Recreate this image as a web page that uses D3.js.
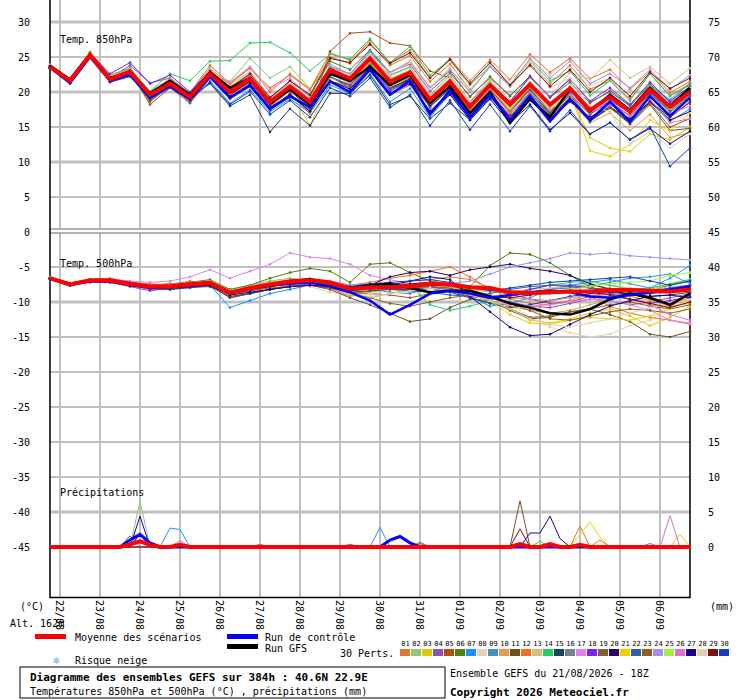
<!DOCTYPE html>
<html><head><meta charset="utf-8">
<script src="https://cdn.jsdelivr.net/npm/d3@7"></script>
<style>body{margin:0;background:#fff}text{font-family:"DejaVu Sans Mono",monospace;font-size:10px}</style>
</head><body><div id="wrapper"></div>
<script>
const dayLabels = ["22/08","23/08","24/08","25/08","26/08","27/08","28/08","29/08","30/08","31/08","01/09","02/09","03/09","04/09","05/09","06/09"]
const memberColors = ["#e07830","#90c878","#e8c800","#9050b0","#b05010","#508010","#1e90ff","#e8d0b0","#4090c0","#e0a050","#705020","#f07020","#d0c080","#20d060","#204060","#708090","#e080f0","#8020f0","#806030","#300060","#f0d000","#3060a0","#906020","#a090f0","#a0f040","#e070d0","#200090","#e0d0b0","#801010","#1040c0"]

// 850 hPa, every 12h from 21/08 18Z
const mean850 = [23.6,21.6,25.3,21.8,22.9,19.6,21.2,19.3,22.6,20.0,21.9,18.6,20.8,18.6,23.2,21.9,24.8,21.5,22.8,18.9,21.5,17.9,21.0,18.2,21.1,18.2,20.5,17.4,19.3,17.2,20.3,17.9,20.0]
const control850 = [23.5,21.3,25.0,21.6,22.5,19.2,20.9,19.0,22.2,19.2,20.9,17.6,19.4,17.8,21.5,20.0,23.2,19.6,21.6,16.8,20.2,16.4,19.6,16.0,19.4,15.8,19.0,16.0,18.6,15.8,19.4,16.6,19.2]
const gfs850 = [23.8,21.8,25.4,22.0,22.8,19.8,21.6,19.6,22.8,20.6,22.0,18.4,20.4,18.2,22.6,21.6,23.6,21.0,22.4,18.4,20.8,17.0,20.0,15.6,19.0,16.4,20.4,17.2,19.6,17.4,20.6,18.0,20.6]
const members850 = [
[23.8,21.5,25.6,22.4,23.4,19.9,21.8,19.9,23.8,21.2,23.5,20.0,22.6,20.4,25.6,24.5,27.0,23.8,25.2,21.5,24.0,20.3,23.6,20.8,24.0,21.2,23.8,20.4,21.6,19.0,22.6,19.5,21.2],
[23.7,21.8,25.2,22.0,23.1,19.5,21.0,19.0,22.8,21.5,24.8,22.0,23.6,20.5,24.0,22.5,25.3,22.0,23.0,19.0,21.8,18.2,21.4,18.0,20.6,17.8,20.2,17.0,18.6,16.5,19.7,17.1,19.2],
[23.5,21.4,25.1,21.5,22.6,19.2,20.9,19.0,22.4,19.5,21.4,17.8,20.2,15.2,21.5,21.0,24.0,20.8,22.1,18.2,20.9,17.4,20.4,17.6,20.4,17.2,19.6,13.5,12.0,11.5,14.0,13.2,15.0],
[23.6,21.7,25.4,22.0,23.8,21.3,22.0,19.8,23.0,20.4,22.3,18.5,20.4,17.8,22.6,22.0,25.5,22.8,24.0,20.1,22.7,19.4,22.0,19.5,22.1,19.3,21.9,18.6,20.0,18.0,21.1,18.4,20.5],
[23.4,21.6,25.7,22.2,23.0,18.2,20.6,18.4,22.0,19.1,21.0,17.5,19.8,16.9,25.8,28.4,28.6,27.0,26.6,23.0,22.0,16.5,19.6,16.8,19.8,16.8,19.0,15.9,17.7,15.8,18.7,16.4,18.5],
[23.7,21.5,25.3,21.9,22.7,19.8,21.4,19.6,23.0,20.5,22.4,19.0,21.6,19.4,24.4,23.2,26.0,22.8,24.3,20.6,23.0,19.3,22.2,19.4,22.3,19.2,21.4,18.4,20.2,18.1,21.1,18.7,20.8],
[23.5,21.3,25.0,21.6,22.5,19.4,20.8,19.0,21.6,18.4,20.3,17.2,19.0,17.0,21.0,19.8,22.6,18.6,20.5,16.4,19.8,16.0,19.6,16.4,20.0,16.8,19.5,16.2,18.0,15.5,18.6,15.8,17.6],
[23.9,21.7,25.5,22.3,23.2,19.9,21.6,19.6,23.2,20.8,22.6,19.2,21.0,18.8,23.4,22.4,25.4,22.6,24.6,20.8,23.4,20.1,23.8,21.0,24.6,22.4,25.0,21.0,22.0,18.5,19.8,16.0,17.2],
[23.6,21.5,25.2,21.8,22.8,19.6,21.3,19.4,22.5,20.2,22.0,18.8,21.2,18.8,23.6,22.6,25.9,22.4,23.6,19.5,22.4,18.6,21.5,18.5,21.3,18.4,20.8,17.6,19.7,17.6,20.9,18.9,21.2],
[23.8,21.9,25.6,22.5,23.3,20.1,21.9,19.8,23.4,21.0,22.9,19.3,21.4,18.8,23.0,21.4,24.2,21.0,22.0,18.2,20.6,17.2,20.0,17.0,19.4,16.5,18.8,15.6,17.0,14.5,16.8,13.5,14.2],
[23.5,21.4,25.2,21.7,22.6,18.8,20.9,18.9,22.2,19.1,21.0,17.4,19.7,17.6,22.1,20.9,23.8,20.4,22.0,18.0,20.9,17.1,20.4,17.1,20.5,16.8,19.6,16.0,17.8,15.4,18.2,14.5,14.8],
[23.7,21.6,25.4,22.0,23.1,19.8,21.4,19.5,22.8,21.2,23.4,20.6,22.4,20.3,25.0,24.1,27.4,24.2,26.0,22.0,24.8,21.6,24.6,21.8,25.4,22.8,24.8,21.9,23.2,20.4,22.9,19.9,21.5],
[23.6,21.5,25.3,21.9,22.9,19.7,21.3,19.4,22.7,20.4,22.2,18.9,21.1,18.6,23.3,22.2,25.1,22.3,23.5,19.6,22.4,18.7,21.8,18.8,22.0,19.3,22.8,21.8,24.6,22.0,23.6,21.2,23.4],
[23.8,21.8,25.5,22.2,23.4,20.1,22.6,21.6,24.4,24.5,27.0,27.1,25.6,23.0,25.4,24.7,27.6,24.2,26.5,22.4,24.6,21.0,23.6,21.0,24.5,21.6,23.0,19.5,21.6,18.8,22.6,19.4,21.0],
[23.4,21.3,25.0,21.5,22.4,19.3,20.8,19.2,21.2,18.0,19.6,14.3,17.6,15.2,19.8,19.8,22.4,18.2,19.4,16.2,18.4,16.0,19.2,16.5,19.6,16.2,19.2,15.8,17.8,15.6,18.6,16.4,18.6],
[23.6,21.5,25.2,21.9,22.8,19.5,21.2,19.4,22.4,19.8,21.6,18.2,20.4,18.0,22.6,21.3,24.2,20.9,22.2,18.6,21.2,17.6,20.8,18.1,21.0,18.0,20.3,17.2,19.4,17.0,20.0,17.6,19.6],
[23.7,21.7,25.4,22.1,23.2,19.9,21.5,19.5,23.1,21.4,23.6,20.4,22.0,19.2,23.0,21.2,23.6,20.2,21.6,18.0,20.8,17.4,20.0,16.5,19.2,16.2,19.0,16.4,18.2,16.6,19.4,16.8,18.0],
[23.6,21.6,25.5,22.6,24.2,21.2,22.4,20.0,23.2,20.3,22.0,18.8,21.0,18.0,22.2,20.6,23.6,20.1,21.8,18.4,21.6,17.8,21.2,18.6,22.2,19.3,21.8,18.7,20.6,18.2,21.4,18.6,20.8],
[23.5,21.5,25.3,22.0,22.9,19.5,21.1,18.5,22.2,19.6,21.5,18.2,20.2,18.0,22.6,21.6,24.4,20.9,22.4,18.4,20.9,17.2,20.3,17.4,20.5,17.2,19.6,16.8,18.6,16.6,19.8,17.2,19.4],
[23.4,21.4,25.1,21.6,22.6,19.3,21.0,19.1,22.3,19.6,21.5,18.1,20.4,18.2,22.8,21.4,24.0,20.6,21.8,18.0,20.4,17.0,19.8,16.5,18.8,16.2,18.6,16.4,17.8,16.2,18.6,16.0,17.2],
[23.7,21.6,25.4,22.0,23.0,19.7,21.2,19.3,22.6,20.0,22.0,18.6,20.6,17.0,22.0,21.2,24.2,20.8,22.2,18.4,21.0,17.2,20.6,17.4,20.7,17.5,20.0,11.6,10.8,12.5,16.0,14.4,17.0],
[23.6,21.5,25.3,21.8,22.8,19.6,21.2,19.2,22.4,19.7,21.6,18.0,20.2,17.6,22.2,21.0,23.9,20.4,21.6,17.8,20.6,17.0,20.2,17.2,20.3,17.0,19.8,16.8,18.8,17.0,19.8,17.4,19.6],
[23.5,21.4,25.2,21.7,22.6,18.6,20.8,18.8,22.0,19.0,20.9,17.6,19.4,17.4,21.6,20.6,23.4,19.6,21.0,17.4,19.8,16.6,19.6,16.4,19.8,16.6,19.2,16.2,17.8,15.8,18.4,15.0,16.2],
[23.7,21.7,25.4,22.1,23.2,19.9,21.6,19.6,23.0,20.6,22.4,19.2,21.3,19.0,23.7,22.6,25.6,22.8,24.2,20.6,23.2,20.0,23.6,21.0,24.8,22.0,24.4,21.2,22.6,20.6,23.2,20.4,22.4],
[23.6,21.6,25.4,22.0,23.0,19.8,21.4,18.9,22.6,19.8,21.9,18.4,20.6,18.0,23.0,22.0,25.0,21.8,23.2,19.2,22.0,18.2,21.4,18.0,21.4,18.0,20.8,17.4,19.6,17.3,20.8,17.6,20.6],
[23.6,21.5,25.3,21.9,22.8,19.6,21.3,19.4,22.8,20.2,22.4,18.8,20.9,18.2,22.8,21.4,24.4,21.0,22.4,18.6,21.2,17.8,20.2,17.1,20.0,17.4,19.6,17.0,18.6,16.5,19.0,15.6,16.2],
[23.5,21.4,25.1,21.6,22.5,19.4,20.9,19.1,22.2,19.3,21.2,17.8,19.6,17.2,21.6,20.4,23.4,19.8,21.2,17.2,19.6,16.0,19.0,15.6,18.2,14.6,17.0,14.0,15.6,13.2,14.8,12.6,14.4],
[23.8,21.7,25.5,22.2,23.2,20.0,21.7,19.7,23.2,20.7,22.8,19.0,21.2,18.6,23.4,22.4,25.4,22.6,24.2,20.4,23.6,21.2,24.0,21.6,24.4,20.6,22.0,18.0,17.2,12.5,14.4,12.0,14.0],
[23.7,21.6,25.4,22.1,23.1,19.9,21.6,19.6,23.0,20.6,22.6,19.2,21.6,19.6,24.8,24.2,26.8,24.1,25.6,22.0,24.6,21.2,24.2,21.0,23.8,20.8,23.2,20.0,22.0,19.4,22.8,20.5,22.0],
[23.4,21.2,25.0,21.4,22.2,19.0,20.6,18.8,21.4,18.2,20.1,16.8,18.8,16.4,20.6,19.4,22.0,17.8,19.6,15.2,18.8,14.6,18.2,14.4,18.0,14.4,17.4,14.0,15.6,13.2,15.0,9.4,12.0]
]

// 500 hPa, every 12h
const mean500 = [-6.6,-7.5,-6.9,-6.9,-7.4,-7.8,-7.8,-7.5,-7.3,-8.7,-8.0,-7.5,-7.1,-6.9,-7.2,-8.1,-7.9,-7.9,-7.8,-7.4,-7.5,-7.9,-8.0,-8.6,-8.7,-8.6,-8.5,-8.5,-8.3,-8.3,-8.4,-8.5,-8.2]
const control500 = [-6.7,-7.6,-7.0,-7.0,-7.5,-7.9,-7.8,-7.5,-7.3,-8.6,-8.0,-7.6,-7.4,-7.2,-7.8,-8.6,-9.8,-11.8,-10.4,-8.8,-8.4,-8.8,-9.4,-9.0,-8.6,-8.4,-8.6,-9.2,-9.4,-9.0,-8.6,-8.2,-7.8]
const gfs500 = [-6.6,-7.4,-6.9,-6.9,-7.4,-7.8,-7.7,-7.4,-7.2,-8.6,-8.0,-7.5,-7.0,-6.8,-7.2,-8.0,-7.6,-7.4,-8.0,-8.6,-8.4,-8.4,-9.2,-10.2,-10.8,-11.6,-11.8,-11.0,-9.6,-8.8,-9.4,-10.4,-8.8]
const members500 = [
[-6.5,-7.3,-6.8,-6.6,-7.2,-7.4,-7.6,-7.0,-7.4,-9.0,-8.6,-8.2,-7.6,-7.6,-8.0,-9.2,-8.4,-8.0,-7.0,-6.8,-6.4,-6.8,-8.0,-9.6,-10.2,-10.4,-9.8,-8.8,-8.4,-9.0,-10.4,-10.8,-8.6],
[-6.7,-7.6,-7.0,-6.8,-7.1,-7.6,-7.4,-7.4,-7.0,-8.2,-7.6,-7.0,-6.6,-7.0,-7.8,-8.8,-8.6,-8.2,-8.0,-7.6,-8.0,-9.4,-10.2,-9.6,-8.8,-8.2,-7.8,-7.6,-8.0,-8.8,-8.2,-7.4,-6.8],
[-6.6,-7.4,-6.9,-7.0,-7.6,-8.0,-7.8,-7.6,-7.6,-8.8,-8.4,-7.8,-7.2,-7.4,-7.6,-8.4,-8.0,-8.2,-8.6,-8.0,-8.0,-8.6,-9.2,-10.8,-12.6,-13.0,-12.4,-11.6,-11.0,-12.0,-13.4,-12.2,-10.6],
[-6.6,-7.6,-7.1,-7.2,-7.8,-8.4,-8.0,-7.8,-7.6,-9.4,-8.8,-8.2,-7.8,-7.4,-7.6,-8.4,-8.0,-7.6,-7.4,-7.2,-7.6,-8.6,-9.4,-10.0,-10.6,-10.8,-10.2,-9.6,-9.8,-10.4,-10.0,-9.4,-8.8],
[-6.5,-7.4,-6.8,-7.0,-7.5,-7.9,-8.0,-7.8,-7.6,-8.8,-8.4,-8.0,-7.8,-7.6,-8.0,-8.6,-8.8,-9.0,-9.4,-8.8,-8.4,-8.4,-8.2,-8.8,-9.6,-10.2,-10.0,-9.2,-8.6,-8.8,-9.6,-10.4,-9.4],
[-6.6,-7.5,-6.9,-6.8,-7.2,-7.6,-7.4,-7.2,-6.8,-8.2,-7.6,-6.6,-5.8,-5.2,-5.6,-7.2,-4.6,-4.4,-5.8,-7.0,-7.4,-7.8,-4.8,-3.0,-3.2,-4.4,-6.2,-7.8,-8.8,-9.0,-8.4,-7.6,-7.0],
[-6.7,-7.6,-7.0,-7.1,-7.4,-7.9,-8.2,-8.0,-7.6,-10.8,-9.8,-8.8,-8.2,-7.6,-7.4,-7.8,-8.2,-8.6,-8.8,-8.0,-8.4,-9.2,-10.6,-10.2,-9.4,-8.2,-7.6,-7.2,-6.8,-7.4,-8.0,-6.6,-4.8],
[-6.6,-7.4,-7.0,-7.0,-7.3,-7.6,-7.8,-7.2,-7.2,-8.6,-8.2,-7.6,-7.4,-7.8,-8.6,-9.2,-8.8,-8.2,-8.0,-7.6,-7.8,-8.2,-9.0,-10.4,-12.2,-13.6,-14.4,-15.0,-14.6,-13.4,-12.6,-11.0,-9.6],
[-6.5,-7.5,-6.8,-6.9,-7.3,-7.7,-7.6,-7.4,-7.2,-8.4,-7.8,-7.4,-7.2,-7.0,-7.4,-8.0,-7.8,-7.8,-7.8,-7.8,-8.2,-8.8,-9.6,-9.2,-8.6,-8.2,-8.0,-7.8,-7.2,-6.6,-6.4,-6.0,-7.4],
[-6.6,-7.5,-7.0,-7.0,-7.4,-7.8,-8.0,-7.6,-7.4,-8.8,-8.2,-7.6,-7.2,-7.2,-7.8,-9.0,-9.4,-8.8,-8.2,-7.8,-7.6,-8.4,-9.2,-10.6,-11.2,-11.6,-11.2,-10.4,-9.6,-9.2,-9.8,-10.6,-10.2],
[-6.7,-7.6,-7.0,-7.0,-7.6,-8.0,-8.2,-7.8,-7.6,-9.4,-8.8,-8.2,-7.8,-7.6,-8.2,-9.4,-10.4,-11.6,-12.8,-12.4,-10.8,-9.6,-9.8,-11.2,-12.4,-12.2,-11.4,-11.0,-11.8,-12.8,-14.6,-15.0,-14.2],
[-6.6,-7.4,-6.9,-6.8,-7.2,-7.6,-7.4,-7.2,-7.0,-8.4,-7.8,-7.2,-6.8,-6.6,-7.0,-7.6,-7.2,-6.6,-6.2,-5.6,-5.0,-6.4,-8.2,-9.0,-8.6,-8.2,-8.6,-9.2,-10.6,-11.6,-12.2,-12.6,-13.2],
[-6.5,-7.4,-6.8,-6.9,-7.3,-7.8,-7.8,-7.4,-7.2,-8.6,-8.2,-7.8,-7.4,-7.2,-7.6,-8.4,-8.2,-8.0,-7.8,-7.6,-7.8,-8.2,-8.6,-8.4,-8.2,-8.0,-7.8,-7.4,-7.6,-8.0,-8.2,-7.8,-7.6],
[-6.6,-7.5,-6.9,-7.0,-7.4,-7.8,-7.7,-7.4,-7.2,-8.6,-8.0,-7.4,-7.0,-6.8,-7.2,-7.8,-7.6,-7.6,-7.6,-10.4,-11.2,-10.6,-9.8,-9.0,-8.2,-7.6,-7.2,-7.0,-7.6,-8.2,-8.0,-7.4,-6.8],
[-6.7,-7.6,-7.1,-7.2,-7.7,-8.1,-8.2,-7.9,-7.8,-9.2,-8.8,-8.2,-7.8,-7.6,-7.8,-8.6,-8.4,-8.2,-8.2,-8.0,-8.6,-9.4,-10.2,-10.8,-10.4,-9.8,-9.2,-8.8,-8.6,-8.8,-9.2,-9.0,-8.6],
[-6.6,-7.5,-7.0,-7.0,-7.4,-7.8,-7.8,-7.6,-7.4,-8.8,-8.2,-7.6,-7.2,-7.0,-7.4,-8.2,-8.0,-8.0,-8.0,-7.8,-7.8,-8.0,-8.4,-8.8,-9.0,-8.8,-8.6,-8.4,-8.4,-8.6,-8.8,-8.6,-8.4],
[-6.5,-7.4,-6.8,-6.7,-7.0,-7.2,-7.0,-6.4,-5.4,-6.6,-5.6,-4.6,-3.0,-3.6,-3.8,-4.6,-6.2,-6.8,-7.4,-7.8,-8.4,-9.0,-9.8,-10.4,-10.6,-10.4,-10.0,-9.6,-9.8,-10.4,-11.2,-12.6,-13.0],
[-6.6,-7.6,-7.2,-7.2,-7.6,-8.2,-8.0,-7.8,-7.4,-8.6,-8.0,-7.6,-7.4,-7.2,-7.6,-8.0,-7.6,-7.4,-7.6,-7.8,-8.4,-9.2,-9.6,-9.0,-8.2,-7.6,-7.6,-8.0,-8.8,-9.6,-10.2,-9.8,-9.2],
[-6.6,-7.5,-7.0,-7.0,-7.4,-7.9,-7.9,-7.6,-7.4,-8.8,-8.4,-7.8,-7.4,-7.2,-7.6,-8.4,-8.2,-8.0,-8.0,-7.8,-8.0,-8.8,-9.8,-11.0,-12.2,-12.0,-11.4,-11.0,-10.4,-10.0,-10.6,-11.0,-10.4],
[-6.7,-7.6,-7.1,-7.0,-7.6,-8.0,-7.8,-7.6,-7.4,-8.8,-8.2,-7.6,-7.2,-7.0,-7.4,-8.2,-7.6,-6.4,-5.8,-5.6,-6.2,-5.4,-5.0,-4.6,-5.2,-5.6,-6.2,-7.4,-8.2,-9.0,-8.8,-8.2,-7.6],
[-6.6,-7.4,-6.9,-6.9,-7.3,-7.7,-7.6,-7.4,-7.2,-8.6,-7.9,-7.4,-7.2,-7.0,-7.2,-8.0,-7.8,-7.8,-7.8,-7.6,-7.8,-8.6,-9.8,-11.8,-13.0,-13.2,-12.6,-12.2,-12.4,-12.6,-12.0,-11.0,-9.6],
[-6.6,-7.5,-6.9,-6.9,-7.4,-7.8,-7.8,-7.6,-7.4,-8.8,-8.2,-7.8,-7.4,-7.2,-7.4,-8.2,-8.0,-8.2,-8.4,-8.6,-9.0,-9.2,-8.8,-8.2,-7.8,-7.6,-7.8,-8.0,-8.2,-8.6,-8.4,-8.0,-7.6],
[-6.5,-7.4,-6.8,-6.8,-7.2,-7.6,-7.6,-7.4,-7.2,-8.6,-8.0,-7.6,-7.2,-7.0,-7.6,-8.6,-9.4,-10.2,-10.6,-10.0,-9.4,-9.0,-9.4,-10.2,-11.2,-12.4,-12.6,-12.0,-11.4,-11.0,-11.2,-11.6,-11.0],
[-6.6,-7.5,-7.0,-7.0,-7.4,-7.8,-7.7,-7.5,-7.3,-8.6,-8.0,-7.4,-7.0,-6.8,-7.0,-7.6,-7.4,-7.4,-7.6,-7.6,-7.4,-7.0,-6.0,-5.0,-4.4,-3.8,-3.0,-3.2,-3.0,-3.4,-3.6,-3.8,-4.0],
[-6.6,-7.5,-6.9,-7.0,-7.4,-7.8,-7.8,-7.5,-7.3,-8.6,-8.0,-7.6,-7.2,-7.0,-7.4,-8.0,-7.8,-7.8,-7.8,-7.6,-7.8,-8.0,-8.2,-8.6,-8.8,-8.6,-8.2,-7.8,-7.4,-7.2,-7.0,-6.2,-5.8],
[-6.6,-7.4,-6.9,-7.0,-7.3,-7.8,-7.8,-7.4,-7.2,-8.6,-8.0,-7.6,-7.4,-7.2,-7.6,-8.2,-8.0,-7.8,-7.6,-7.4,-7.8,-8.4,-9.0,-9.4,-9.6,-9.8,-9.4,-9.0,-9.2,-9.6,-10.4,-11.8,-12.6],
[-6.7,-7.6,-7.1,-7.1,-7.6,-8.0,-8.0,-7.8,-7.6,-9.0,-8.6,-8.2,-7.8,-7.6,-7.8,-8.4,-8.0,-7.6,-7.0,-6.4,-6.8,-9.2,-11.4,-13.6,-14.8,-14.6,-13.2,-11.8,-10.6,-9.8,-9.2,-9.0,-9.4],
[-6.5,-7.4,-6.9,-6.9,-7.3,-7.7,-7.7,-7.4,-7.2,-8.4,-7.8,-7.4,-7.0,-7.2,-7.8,-8.8,-9.2,-8.8,-8.4,-8.0,-8.4,-9.0,-9.8,-11.0,-12.4,-13.2,-13.6,-13.0,-12.4,-11.6,-10.8,-10.2,-9.6],
[-6.6,-7.5,-7.0,-7.0,-7.5,-7.9,-7.9,-7.6,-7.4,-8.8,-8.2,-7.8,-7.4,-7.2,-7.6,-8.2,-8.0,-7.8,-7.4,-7.2,-7.6,-8.4,-9.2,-9.4,-9.0,-8.6,-8.4,-8.6,-9.0,-9.6,-10.2,-10.8,-10.0],
[-6.6,-7.5,-7.0,-7.0,-7.4,-7.8,-7.8,-7.6,-7.4,-8.8,-8.2,-7.6,-7.2,-7.0,-7.2,-7.8,-7.4,-7.2,-7.0,-6.8,-7.2,-7.8,-8.4,-8.0,-7.6,-7.2,-7.0,-6.8,-6.6,-6.4,-7.0,-7.6,-7.0]
]

// precipitation events (mm) per 6h step: [member index, step, mm]
const precipEvents = [[1,9,6.6],[26,9,4.4],[29,9,2.0],[21,8,1.6],[17,9,1.8],[6,12,2.7],[6,13,2.5],[25,13,0.9],[15,21,0.4],[3,30,0.4],[6,33,2.8],[8,37,0.7],[22,37,0.5],[10,47,6.6],[28,47,2.6],[13,49,0.8],[26,48,2.0],[26,49,2.0],[26,50,4.4],[26,51,1.2],[0,53,3.0],[11,55,1.0],[20,53,1.8],[20,54,3.6],[20,55,1.4],[6,60,0.5],[25,62,4.5],[2,63,1.8]]
const controlPrecip = [[8,1.0],[9,1.8],[10,0.6],[34,1.0],[35,1.5],[36,0.6]]
const meanPrecip = [[8,0.4],[9,0.8],[10,0.3],[13,0.3],[47,0.4],[50,0.4],[53,0.3]]

const x12 = d3.scaleLinear().domain([0, 32]).range([50, 690])
const x6 = d3.scaleLinear().domain([0, 64]).range([50, 690])
const yT = d3.scaleLinear().domain([30, -45]).range([22, 547])
const yP = d3.scaleLinear().domain([0, 45]).range([547, 232])

const svg = d3.select("#wrapper").append("svg").attr("width", 740).attr("height", 700)

// grid
const hTicks = d3.range(30, -46, -5)
svg.selectAll(".hg").data(hTicks).enter().append("line")
  .attr("x1", 50).attr("x2", 690).attr("y1", d => yT(d)).attr("y2", d => yT(d))
  .attr("stroke", "#c0c0c0").attr("stroke-width", d => [30, 20, 10, -10, -40].includes(d) ? 3 : 2)
svg.selectAll(".vg").data(dayLabels).enter().append("line")
  .attr("x1", (d, i) => x12(0.5 + 2 * i)).attr("x2", (d, i) => x12(0.5 + 2 * i))
  .attr("y1", 0).attr("y2", 597).attr("stroke", "#c0c0c0").attr("stroke-width", 2)
svg.append("rect").attr("x", 50).attr("y", yT(0) - 3).attr("width", 640).attr("height", 4).attr("fill", "#fff")
;[-3, 1].forEach(o => svg.append("line").attr("x1", 50).attr("x2", 690).attr("y1", yT(0) + o).attr("y2", yT(0) + o).attr("stroke", "#999").attr("stroke-width", 1.5))
svg.append("path").attr("d", "M50,0V597.5H690V0").attr("fill", "none").attr("stroke", "#000").attr("stroke-width", 1.5)

// axes labels
svg.selectAll(".ly").data(hTicks).enter().append("text")
  .attr("x", 30).attr("y", d => yT(d) + 4).attr("text-anchor", "end").text(d => d)
svg.selectAll(".ry").data(d3.range(75, -1, -5)).enter().append("text")
  .attr("x", 708).attr("y", d => yP(d) + 4).text(d => d)
svg.selectAll(".xl").data(dayLabels).enter().append("text")
  .attr("transform", (d, i) => `translate(${x12(0.5 + 2 * i) - 4},600) rotate(90)`).text(d => d)

const line12 = d3.line().x((d, i) => x12(i)).y(d => yT(d))
function drawSeries(data, color, width, dots) {
  svg.append("path").attr("d", line12(data)).attr("fill", "none").attr("stroke", color).attr("stroke-width", width)
  if (dots) svg.append("g").selectAll("circle").data(data).enter().append("circle")
    .attr("cx", (d, i) => x12(i)).attr("cy", d => yT(d)).attr("r", 1.3).attr("fill", color)
}
members850.forEach((m, k) => drawSeries(m, memberColors[k], 1, true))
members500.forEach((m, k) => drawSeries(m, memberColors[k], 1, true))
;[[gfs850, "#000"], [control850, "#0000ff"], [gfs500, "#000"], [control500, "#0000ff"]].forEach(s => drawSeries(s[0], s[1], 2.5, false))
drawSeries(mean850, "#ff0000", 4, false)
drawSeries(mean500, "#ff0000", 4, false)

// precip
function precipSeries(events) {
  const v = new Array(65).fill(0)
  events.forEach(e => v[e[0]] = e[1])
  return v
}
const lineP = d3.line().x((d, i) => x6(i)).y(d => yP(d))
memberColors.forEach((c, k) => {
  const ev = precipEvents.filter(e => e[0] === k).map(e => [e[1], e[2]])
  if (!ev.length) return
  svg.append("path").attr("d", lineP(precipSeries(ev))).attr("fill", "none").attr("stroke", c).attr("stroke-width", 1)
})
svg.append("path").attr("d", lineP(precipSeries(controlPrecip))).attr("fill", "none").attr("stroke", "#0000ff").attr("stroke-width", 3)
svg.append("path").attr("d", lineP(precipSeries(meanPrecip))).attr("fill", "none").attr("stroke", "#ff0000").attr("stroke-width", 4)

svg.append("text").attr("x", 60).attr("y", 43).text("Temp. 850hPa")
svg.append("text").attr("x", 60).attr("y", 267).text("Temp. 500hPa")
svg.append("text").attr("x", 60).attr("y", 496).text("Précipitations")

// footer
svg.append("text").attr("x", 20).attr("y", 610).text("(°C)")
svg.append("text").attr("x", 710).attr("y", 610).text("(mm)")
svg.append("text").attr("x", 10).attr("y", 627).text("Alt. 162m")
svg.append("rect").attr("x", 35).attr("y", 634).attr("width", 31).attr("height", 5).attr("fill", "#ff0000")
svg.append("text").attr("x", 75).attr("y", 641).text("Moyenne des scénarios")
svg.append("rect").attr("x", 227).attr("y", 634).attr("width", 31).attr("height", 5).attr("fill", "#0000ff")
svg.append("text").attr("x", 265).attr("y", 641).text("Run de contrôle")
svg.append("rect").attr("x", 227).attr("y", 644).attr("width", 31).attr("height", 5).attr("fill", "#000")
svg.append("text").attr("x", 265).attr("y", 652).text("Run GFS")
svg.append("text").attr("x", 53).attr("y", 664).attr("fill", "#5ab0f0").text("❄")
svg.append("text").attr("x", 75).attr("y", 664).text("Risque neige")
svg.append("text").attr("x", 340).attr("y", 657).text("30 Perts.")
const cell = d3.scaleBand().domain(d3.range(30)).range([400, 730])
svg.selectAll(".sw").data(memberColors).enter().append("rect")
  .attr("x", (d, i) => cell(i)).attr("y", 649).attr("width", cell.bandwidth() - 1).attr("height", 7).attr("fill", d => d)
svg.selectAll(".sn").data(memberColors).enter().append("text")
  .attr("x", (d, i) => cell(i) + cell.bandwidth() / 2).attr("y", 646).attr("text-anchor", "middle")
  .style("font-size", "7px").text((d, i) => String(i + 1).padStart(2, "0"))
svg.append("rect").attr("x", 20).attr("y", 667).attr("width", 425).attr("height", 31).attr("fill", "none").attr("stroke", "#000")
svg.append("text").attr("x", 30).attr("y", 681).attr("font-weight", "bold").style("font-size", "11px").text("Diagramme des ensembles GEFS sur 384h : 40.6N 22.9E")
svg.append("text").attr("x", 30).attr("y", 695).text("Températures 850hPa et 500hPa (°C) , précipitations (mm)")
svg.append("text").attr("x", 450).attr("y", 677).text("Ensemble GEFS du 21/08/2026 - 18Z")
svg.append("text").attr("x", 450).attr("y", 696).attr("font-weight", "bold").style("font-size", "11px").text("Copyright 2026 Meteociel.fr")
</script></body></html>
